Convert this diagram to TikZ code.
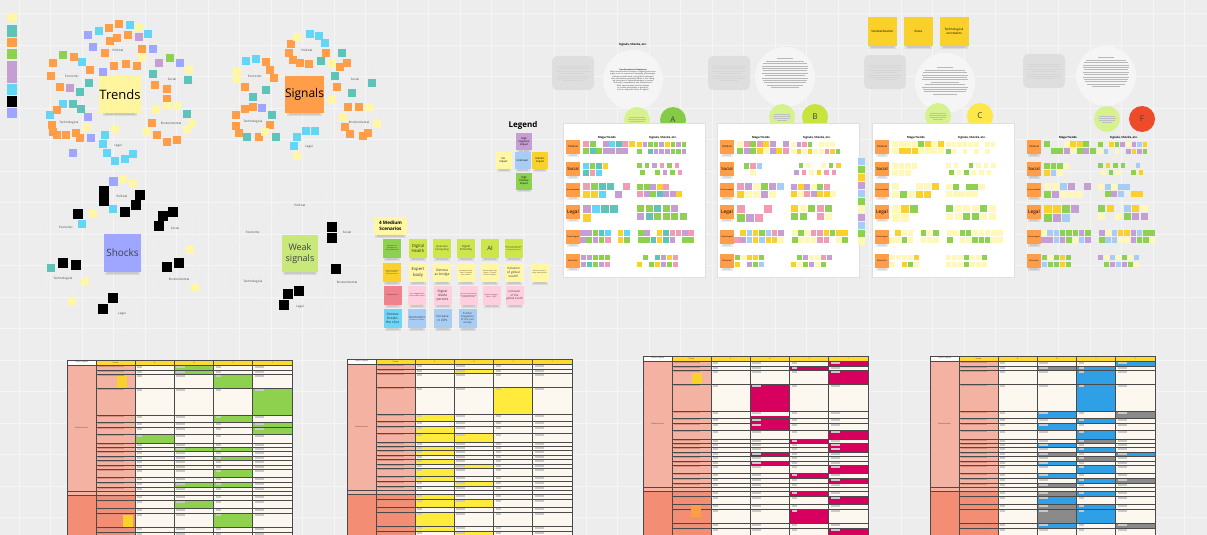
\documentclass[tikz,border=0pt]{standalone}
\usepackage{fontspec}
\setmainfont{Open Sans}
\definecolor{cbg}{HTML}{EDEDED}
\definecolor{cgrid}{HTML}{F5F5F5}
\definecolor{ctrend}{HTML}{FFF59E}
\definecolor{cor}{HTML}{FF9D48}
\definecolor{cteal}{HTML}{5EC4BA}
\definecolor{ccyan}{HTML}{63D6F7}
\definecolor{cperi}{HTML}{9EA6FF}
\definecolor{cpur}{HTML}{C59ED3}
\definecolor{cgrn}{HTML}{8ED04F}
\definecolor{cweak}{HTML}{C9E87A}
\definecolor{cyel}{HTML}{FFF6A6}
\definecolor{cpyel}{HTML}{FFF8B8}
\definecolor{cgold}{HTML}{FAD12A}
\definecolor{cyg}{HTML}{CDE64A}
\definecolor{cpink}{HTML}{F29BB5}
\definecolor{cpinkl}{HTML}{FFCEDF}
\definecolor{cred}{HTML}{F0828F}
\definecolor{cblue}{HTML}{A7CDF4}
\definecolor{cblueb}{HTML}{6DD5F7}
\definecolor{clime}{HTML}{D6F28E}
\definecolor{cA}{HTML}{86CB48}
\definecolor{cB}{HTML}{C6E33E}
\definecolor{cC}{HTML}{FCE84A}
\definecolor{cF}{HTML}{EE4B2B}
\definecolor{cgreybox}{HTML}{DEDEDE}
\definecolor{ccircle}{HTML}{F5F5F6}
\definecolor{csal}{HTML}{F4B2A3}
\definecolor{csal2}{HTML}{F38E74}
\definecolor{csalt}{HTML}{D98F80}
\definecolor{ccream}{HTML}{FCF8F0}
\definecolor{chead}{HTML}{FFDA2E}
\definecolor{cbar}{HTML}{C9C9C9}
\definecolor{ctline}{HTML}{4A4A4A}
\definecolor{cmag}{HTML}{D8005F}
\definecolor{ctgrn}{HTML}{8DD14E}
\definecolor{ctyel}{HTML}{FFEB3B}
\definecolor{ctblue}{HTML}{2F9FE6}
\definecolor{ctgrey}{HTML}{8A8A8A}

% squares of one colour, given by their centres
\newcommand\sqs[3]{\foreach \p in {#3}{\fill[#1] \p ++(-#2/2,-#2/2) rectangle ++(#2,#2);}}
% soft shadow under a note: left x, right x, bottom y
\newcommand\nshadow[3]{\fill[black,opacity=0.08] (#1+1,#3-1) rectangle (#2-1,#3+2.6);
  \fill[black,opacity=0.08] (#1+3,#3) rectangle (#2-3,#3+1.6);}
% a line of small squares with random colours
\newcommand\prow[6]{\foreach \k in {1,...,#3}{%
  \pgfmathtruncatemacro\keep{rnd>0.12}%
  \ifnum\keep=1 \pgfmathrandomitem{\cc}{#6}%
  \fill[\cc] ({#1+(\k-1)*#5},#2) rectangle ++(#4,#4);\fi}}
% the six rows of squares of one scenario board
\newcommand\boardsq[3]{%
  \prow{#1+20}{141}{8}{6}{6.5}{#2}\prow{#1+20}{148}{8}{6}{6.5}{#2}
  \prow{#1+74}{142}{9}{4.5}{5.6}{#3}\prow{#1+74}{149}{9}{4.5}{5.6}{#3}
  \prow{#1+20}{163}{4}{5.5}{6.5}{#2}\prow{#1+20}{170}{3}{5.5}{6.5}{#2}
  \prow{#1+74}{163}{7}{4.5}{7.5}{#3}\prow{#1+77}{170}{6}{4.5}{7.5}{#3}
  \prow{#1+20}{183}{6}{7}{8}{#2}\prow{#1+20}{191}{5}{7}{8}{#2}
  \prow{#1+74}{184}{6}{6}{6.5}{#3}\prow{#1+74}{191}{7}{6}{6.5}{#3}
  \prow{#1+20}{205}{4}{8}{9}{#2}\prow{#1+20}{214}{3}{8}{9}{#2}
  \prow{#1+74}{205}{6}{7}{8.5}{#3}\prow{#1+74}{213}{6}{7}{8.5}{#3}
  \prow{#1+17}{230}{8}{5.5}{6.3}{#2}\prow{#1+17}{237}{8}{5.5}{6.3}{#2}
  \prow{#1+75}{230}{9}{5.5}{6.3}{#3}\prow{#1+75}{237}{9}{5.5}{6.3}{#3}
  \prow{#1+18}{255}{5}{5}{6}{#2}\prow{#1+18}{262}{5}{5}{6}{#2}
  \prow{#1+74}{255}{7}{4.5}{6}{#3}\prow{#1+74}{262}{7}{4.5}{6}{#3}}
% orange row labels and column heads of one scenario board
\newcommand\boardlabels[2]{%
  \node[hdr] (#2mt) at (#1+44,138) {Mega Trends};
  \node[hdr] (#2ss) at (#1+100,138) {Signals, Shocks, etc.};
  \foreach \yy/\lab/\fs [count=\i] in {140/Political/2.6, 162/Social/4.2, 183/Environmental/1.9, 205/Legal/4.8, 230/Technological/1.9, 254/Economic/2.1}{%
    \nshadow{#1+3}{#1+17}{\yy+14}
    \node[fill=cor, minimum width=14pt, minimum height=14pt, inner sep=0pt,
      font=\fontsize{\fs}{\fs}\selectfont] (#2r\i) at (#1+10,\yy+7) {\lab};}}
% faint lines of very small print, centred at x, from y, with given half widths
\newcommand\printlines[3]{\foreach \hw [count=\j] in {#3}{\fill[black!28] (#1-\hw,#2+\j*2.4) rectangle (#1+\hw,#2+\j*2.4+0.55);}}

\def\rowsA{5/10,10/14,14/28,28/55,55/62,62/67,67/74,74/83,83/87,87/91,91/96,96/100,100/105,105/109,109/117,117/122,122/127,127/131}
\def\rowsB{135/140,140/148,148/153,153/167,167/172,172/180}
% one data table: x0, y0, name, fill colour, cells top/bottom/column, second colour, its cells
\newcommand\datatable[7]{%
\begin{scope}[shift={(#1,#2)}]
  \fill[white] (0,0) rectangle (29,5);
  \fill[chead] (29,0) rectangle (225,5);
  \fill[csal] (0,5) rectangle (68,135);
  \fill[csal2] (0,135) rectangle (68,180);
  \fill[ccream] (68,5) rectangle (225,180);
  \foreach \t/\b/\c in {#5}{\fill[#4] ({68+(\c-3)*39.25},\t) rectangle ({68+(\c-2)*39.25},\b);}
  \foreach \t/\b/\c in {#7}{\fill[#6] ({68+(\c-3)*39.25},\t) rectangle ({68+(\c-2)*39.25},\b);}
  \node[tt] (#3h) at (14.5,2.5) {Trends / Signals};
  \node[tt] (#3t) at (48.5,2.5) {Trends};
  \foreach \c/\hl in {0/A,1/B,2/C,3/F}{\node[tt] (#3c\c) at ({87.6+\c*39.25},2.5) {\hl};}
  \node[tt] (#3p) at (14.5,68) {Political trends};
  \foreach \t/\b in \rowsA {%
    \draw[tl] (29,\b) -- (225,\b);
    \fill[csalt] (31,\t+1) rectangle ++(26,1.3);
    \foreach \c in {0,...,3}{\fill[cbar] ({70+\c*39.25},\t+0.9) rectangle ++({5+mod(\c,2)*4},1.6);}}
  \foreach \t/\b in \rowsB {%
    \draw[tl] (29,\b) -- (225,\b);
    \fill[csalt] (31,\t+1) rectangle ++(30,1.3);
    \foreach \c in {0,...,3}{\fill[cbar] ({70+\c*39.25},\t+0.9) rectangle ++({5+mod(\c,2)*4},1.6);}}
  \draw[tl] (0,0) -- (225,0);
  \draw[tl] (0,5) -- (225,5);
  \draw[tl,line width=1pt] (0,131) -- (225,131);
  \draw[tl,line width=1pt] (0,135) -- (225,135);
  \foreach \x in {0,29,68,107.25,146.5,185.75,225}{\draw[tl] (\x,0) -- (\x,180);}
\end{scope}}

\pgfmathdeclarerandomlist{lA}{{cpur}{cpur}{cpur}{cpink}{cgrn}{cgrn}{cgold}{cteal}{ccyan}}
\pgfmathdeclarerandomlist{lAs}{{cpur}{cpur}{cpink}{cgrn}{cgrn}{cgrn}{cteal}{cgold}}
\pgfmathdeclarerandomlist{lB}{{cpur}{cpur}{cgrn}{cgrn}{cblue}{cgold}{cpyel}{cpink}}
\pgfmathdeclarerandomlist{lBs}{{cpur}{cgrn}{cgrn}{cgold}{cpyel}{cpyel}{cpink}}
\pgfmathdeclarerandomlist{lC}{{cpyel}{cpyel}{cpyel}{cpyel}{cgrn}{cgold}}
\pgfmathdeclarerandomlist{lCs}{{cpyel}{cpyel}{cpyel}{cpyel}{cpyel}{cgrn}}
\pgfmathdeclarerandomlist{lF}{{cgrn}{cgrn}{cblue}{cpur}{cpyel}{cgold}}

\begin{document}
\begin{tikzpicture}[x=1pt,y=-1pt,
  lbl/.style={font=\fontsize{3}{3.5}\selectfont, text=black!75, inner sep=0pt},
  tt/.style={font=\fontsize{1.8}{2}\selectfont, inner sep=0pt, text=black!80},
  hdr/.style={font=\bfseries\fontsize{2.8}{3}\selectfont, inner sep=0pt},
  note/.style={inner sep=0.3pt, align=center, text=black!80, minimum width=18pt, minimum height=19pt, text width=17pt},
  tl/.style={draw=ctline, line width=0.6pt},
  cring/.style={draw=black!9, dash pattern=on 0.5pt off 1.4pt, line width=0.35pt}]
\pgfmathsetseed{11}
\useasboundingbox (0,0) rectangle (1207,535);
\fill[cbg] (0,0) rectangle (1207,535);
\foreach \x in {19,50.5,...,1207}{\draw[cgrid,line width=0.7pt] (\x,0) -- (\x,535);}
\foreach \y in {13.5,45,...,535}{\draw[cgrid,line width=0.7pt] (0,\y) -- (1207,\y);}

% ---------- colour key strip ----------
\fill[cyel] (7,13) rectangle (17,21);
\fill[cteal] (7,25) rectangle (17,37);
\fill[cor] (7,38) rectangle (17,47);
\fill[cgrn] (7,49) rectangle (17,59);
\fill[cpur] (7,61) rectangle (17,83);
\fill[ccyan] (7,84) rectangle (17,95);
\fill[black] (7,96) rectangle (17,107);
\fill[cperi] (7,108) rectangle (17,118);

% ---------- Trends ----------
\foreach \p in {(118,50),(72,76),(172,79),(69,123),(171,123),(118,146)}{\draw[cring] \p circle (21);}
\sqs{cperi}{8}{(88,35),(93,47),(153,49),(103,72),(88,117),(91,138),(73,153)}
\sqs{ccyan}{8}{(99,31),(130,25),(148,34),(82,62),(63,104),(50,115),(105,135),(103,144),(107,153),(115,161),(125,159),(133,154)}
\sqs{cor}{7.5}{(109,28),(119,24),(110,41),(117,38),(128,35),(105,53),(114,66),(126,64),(137,66),(142,49),(74,57),(53,63),(90,70),(51,76),(60,87),(57,110),(52,125),(53,132),(57,135),(66,135),(76,133),(80,138),(155,85),(167,89),(167,99),(152,123),(157,135),(167,142),(177,140)}
\sqs{cyel}{8}{(139,27),(142,57),(189,70),(87,127),(156,110),(167,106),(177,106),(192,123),(187,130),(147,132),(115,130)}
\sqs{cpur}{8}{(139,37),(70,88),(159,63)}
\sqs{cgrn}{8}{(63,55),(170,58)}
\sqs{cteal}{8}{(80,92),(89,83),(73,104),(81,109),(153,74),(188,80),(187,114)}
\sqs{cperi}{8}{(180,63)}
\nshadow{102}{138}{113}
\node[fill=ctrend, minimum width=36pt, minimum height=37pt, inner sep=0pt, font=\fontsize{13}{15}\selectfont] (trends) at (120,94.5) {Trends};
\node[lbl] (tpol) at (118,50) {Political};
\node[lbl] (teco) at (72,76) {Economic};
\node[lbl] (tsoc) at (172,79) {Social};
\node[lbl] (ttec) at (69,123) {Technological};
\node[lbl] (tenv) at (171,123) {Environmental};
\node[lbl] (tleg) at (118,146) {Legal};

% ---------- Signals ----------
\foreach \p in {(307,50),(255,76),(355,79),(253,122),(359,122),(309,147)}{\draw[cring] \p circle (21);}
\sqs{ccyan}{8}{(310,34),(319,36),(325,43),(246,61),(256,59),(306,131),(315,131),(297,137),(294,146)}
\sqs{cor}{7.5}{(291,44),(289,53),(293,60),(300,63),(309,64),(326,53),(266,62),(270,70),(274,78),(245,87),(253,107),(245,109),(236,115),(236,126),(239,133),(270,125),(259,137),(347,63),(340,67),(337,87),(348,107),(359,107),(345,127),(350,134),(363,136),(368,133)}
\sqs{cteal}{8.5}{(321,61),(266,90),(253,97),(272,115),(247,137),(276,137),(342,53),(335,76),(372,83),(352,93)}
\sqs{cyel}{8}{(297,37),(237,72),(237,80),(265,132),(332,63),(332,100),(369,107),(343,117),(377,124),(297,155)}
\sqs{cperi}{8}{(262,108)}
\nshadow{286}{323}{113}
\node[fill=cor, minimum width=37pt, minimum height=37pt, inner sep=0pt, font=\fontsize{12}{14}\selectfont] (signals) at (304.5,94.5) {Signals};
\node[lbl] (spol) at (307,50) {Political};
\node[lbl] (seco) at (255,76) {Economic};
\node[lbl] (ssoc) at (355,79) {Social};
\node[lbl] (stec) at (253,122) {Technological};
\node[lbl] (senv) at (359,122) {Environmental};
\node[lbl] (sleg) at (309,147) {Legal};

% ---------- Shocks ----------
\foreach \p in {(122,196),(66,227),(175,228),(63,279),(179,279),(122,314)}{\draw[cring] \p circle (22);}
\sqs{black}{10}{(104,191),(104,201),(140,195),(136,205),(125,212),(78,214),(163,216),(173,212),(159,226),(167,267),(179,263),(63,263),(76,265),(113,298),(103,309)}
\sqs{cperi}{9}{(113,181)}
\sqs{cyel}{8.5}{(123,179),(133,184),(93,214),(190,250),(195,287),(85,281),(72,302)}
\sqs{ccyan}{8.5}{(113,209),(82,224)}
\sqs{cteal}{8.5}{(51,268)}
\nshadow{104}{141}{272}
\node[fill=cperi, minimum width=37pt, minimum height=38pt, inner sep=0pt, font=\fontsize{10}{12}\selectfont, text=black!75] (shocks) at (122.5,253) {Shocks};
\node[lbl] (hpol) at (122,196) {Political};
\node[lbl] (heco) at (66,227) {Economic};
\node[lbl] (hsoc) at (175,228) {Social};
\node[lbl] (htec) at (63,279) {Technological};
\node[lbl] (henv) at (179,279) {Environmental};
\node[lbl] (hleg) at (122,314) {Legal};

% ---------- Weak signals ----------
\foreach \p in {(300,205),(253,232),(347,232),(253,282),(347,282),(300,307)}{\draw[cring] \p circle (22);}
\sqs{black}{10}{(332,227),(332,238),(336,269),(299,291),(288,294),(284,305)}
\nshadow{282}{318}{272}
\node[fill=cweak, minimum width=36pt, minimum height=37pt, inner sep=0pt, align=center, font=\fontsize{9}{11}\selectfont, text=black!75] (weak) at (300,253.5) {Weak\\signals};
\node[lbl] (wpol) at (300,205) {Political};
\node[lbl] (weco) at (253,232) {Economic};
\node[lbl] (wsoc) at (347,232) {Social};
\node[lbl] (wtec) at (253,282) {Technological};
\node[lbl] (wenv) at (347,282) {Environmental};
\node[lbl] (wleg) at (300,307) {Legal};

% ---------- Legend ----------
\node[font=\bfseries\fontsize{8}{9}\selectfont] (legend) at (523,125) {Legend};
\foreach \nm/\cx/\cy/\col/\txt in {lg1/524/141.5/cpur/{High\\Negative\\Impact}, lg2/503.5/160.5/cyel/{No\\impact}, lg3/522.5/160.5/cblue/{Unknown}, lg4/540/160.5/cgold/{Indirect\\impact}, lg5/524/181/cgrn/{High\\Positive\\Impact}}{%
  \nshadow{\cx-8}{\cx+8}{\cy+8.5}
  \node[fill=\col, minimum width=16pt, minimum height=17pt, inner sep=0pt, align=center, font=\fontsize{2.6}{3.1}\selectfont] (\nm) at (\cx,\cy) {\txt};}

% ---------- 4 Medium Scenarios ----------
\nshadow{374}{407}{235}
\node[fill=cyel, minimum width=33pt, minimum height=18pt, inner sep=0pt, align=center, font=\bfseries\fontsize{4.6}{5.6}\selectfont] (ms) at (390.5,226) {4 Medium\\Scenarios};
\foreach \nm/\cx/\cy/\col/\fs/\txt in {
  m11/392/248.5/cgrn/1.7/{Geneva as a champion of new governance},
  m12/418/248.5/cyg/4.2/{Digital Health},
  m13/442/248.5/cyg/2.6/{Quantum Computing},
  m14/466/248.5/cyg/2.8/{Digital Economy},
  m15/490/248.5/cyg/6/{AI},
  m16/513.5/248.5/cyg/1.4/{Geneva to become a hub for science diplomacy and digital governance},
  m21/392/272.5/cgold/1.5/{Geneva ecosystem stays a leader in data governance},
  m22/418/272.5/cyel/4.2/{Expert body},
  m23/442/272.5/cyel/3.4/{Geneva as bridge},
  m24/466/272.5/cyel/1.6/{Increased Competition in Geneva less relevant},
  m25/490/272.5/cyel/1.6/{Geneva about regulation + international innovation},
  m26/513.5/272.5/cyel/3.1/{Inclusion of global south?},
  m27/539.5/272.5/cyel/1.6/{Geneva as one of many neutral hubs},
  m31/392.5/295.5/cred/1.7/{Fragmentation},
  m32/417/295.5/cpinkl/1.7/{Less engagement from private actors},
  m33/442.5/295.5/cpinkl/3.3/{Digital divide persists},
  m34/468.5/295.5/cpinkl/1.5/{Little use and adoption of data standards and international rules},
  m35/491.5/295.5/cpinkl/1.6/{Regional fragmentation + WSIS},
  m36/514.5/295.5/cpinkl/2.8/{Inclusion of the global south},
  m41/392.5/318.5/cblueb/3.4/{Geneva breaks the silos},
  m42/417/318.5/cblue/1.5/{More hubs engaged in appeared and physical presence in Geneva},
  m43/442.5/318.5/cblue/3.1/{Increase in IXPs},
  m44/467.5/318.5/cblue/2.6/{Further integration of the civil society}}{%
  \nshadow{\cx-9}{\cx+9}{\cy+9.5}
  \pgfmathsetmacro\bs{\fs*1.2}
  \node[note, fill=\col, font=\fontsize{\fs}{\bs}\selectfont] (\nm) at (\cx,\cy) {\txt};}

% ---------- scenario boards ----------
% top notes
\foreach \nm/\cx/\txt in {tn1/882.5/Standardization, tn2/918.5/Rules/policies, tn3/954/{Technological\\constraints}}{%
  \nshadow{\cx-14.5}{\cx+14.5}{46}
  \node[fill=cgold, minimum width=29pt, minimum height=29pt, inner sep=0pt, align=center, font=\fontsize{3}{3.6}\selectfont] (\nm) at (\cx,31.5) {\txt};}

% grey cards and question circles
\foreach \gx/\gy in {552/56,708/56,864/55,1023/54}{%
  \fill[cgreybox, rounded corners=5pt] (\gx,\gy) rectangle (\gx+42,\gy+34);
  \foreach \ly/\hw in {10/17,12.4/16,14.8/17,17.2/12,19.6/17,22/16,24.4/10}{\fill[black!16] (\gx+21-\hw,\gy+\ly) rectangle (\gx+21+\hw,\gy+\ly+0.55);}}
\node[hdr] (ttlA) at (633,45) {Signals, Shocks, etc.};
\foreach \nm/\cx/\cy in {qa/633/80, qb/785/77, qc/945/83, qf/1106/76}{%
  \fill[ccircle] (\cx,\cy) circle (30);}
\node[font=\fontsize{1.9}{2.3}\selectfont, text width=46pt, align=center, inner sep=0pt, text=black!80] (qtA) at (633,80) {\textbf{Transformation (Adaptation)}\\What transformative changes in digital governance might occur in response to emerging technologies, shifting societal needs, and global challenges?\\How can Geneva proactively adapt to the changing landscape of digital governance to ensure inclusivity, transparency, and effectiveness?\\What opportunities exist for Geneva to involve participants in global efforts to shape the future of digital?};
\printlines{785}{56}{8,19,22,23,23,22,23,20,23,22,21,18,14}
\printlines{945}{65}{8,20,22,23,22,23,14,20,23,22,21,12}
\printlines{1106}{55}{8,20,22,23,23,22,23,22,23,22,21,19,14}

\foreach \nm/\lx/\ly/\kx/\kcol/\kl in {A/637/120/673/cA/A, B/782/117/815/cB/B, C/938/116/980/cC/C, F/1107/119/1142/cF/F}{%
  \fill[clime] (\lx,\ly) circle (13);
  \foreach \dd/\hw in {-3/8,-1/9,1/8,3/5}{\fill[black!25] (\lx-\hw,\ly+\dd) rectangle (\lx+\hw,\ly+\dd+0.5);}
  \node[circle, fill=\kcol, minimum size=26pt, inner sep=0pt, font=\fontsize{8}{9}\selectfont, text=black!75] (k\nm) at (\kx,\ly) {\kl};}

% boards
\foreach \bx in {563,717,872}{\fill[white, draw=black!12, line width=0.4pt] (\bx,123) rectangle (\bx+142,277);}
\boardlabels{563}{ba}
\boardlabels{717}{bb}
\boardlabels{872}{bc}
\boardlabels{1024}{bf}
\boardsq{563}{lA}{lAs}
\boardsq{717}{lB}{lBs}
\boardsq{872}{lC}{lCs}
\boardsq{1024}{lF}{lF}
\foreach \yy/\col in {158/cblue,166/cgrn,174/cgold,182/cpur,190/cblue,198/cgrn,206/cpyel,214/cpur,222/cblue,230/cgrn,238/cpyel}{\fill[\col] (858,\yy) rectangle ++(7,6.5);}

% ---------- data tables ----------
\datatable{67}{360}{ta}{ctgrn}{5/10/4,10/14/4,14/28/5,28/55/6,55/62/5,62/67/6,67/74/6,74/83/3,87/91/4,87/91/5,96/100/5,109/117/5,122/127/4,122/127/5,140/148/4,153/167/5}{ctgrn}{74/83/3}
\fill[cgold] (117,376) rectangle (127,388);
\fill[cgold] (123,515) rectangle (133,527);
\datatable{347}{359}{tb}{ctyel}{10/14/4,28/55/5,55/62/3,67/74/3,74/83/3,74/83/4,87/91/3,91/96/3,100/105/3,105/109/4,109/117/3,117/122/3,122/127/4,135/140/3,140/148/3,140/148/4,153/167/3,167/172/3,172/180/4}{ctyel}{10/14/4}
\datatable{643}{356}{tc}{cmag}{5/10/6,10/15/5,14/28/6,28/55/4,60/67/4,67/74/4,74/83/6,83/87/5,87/91/6,91/96/6,96/100/4,105/109/4,109/117/6,117/122/5,122/127/6,135/140/5,140/148/6,153/167/5,172/180/6}{cmag}{5/10/6}
\fill[cgold] (692,373) rectangle (702,384);
\fill[cor] (691,505) rectangle (701,517);
\datatable{930}{356}{td}{ctblue}{5/10/6,10/14/5,14/28/5,28/55/5,55/62/4,62/67/5,67/74/4,74/83/5,87/91/4,91/96/5,96/100/6,105/109/4,109/117/5,117/122/4,122/127/5,135/140/5,140/148/4,148/153/5,153/167/5,167/172/4}{ctgrey}{10/14/4,55/62/6,83/87/5,96/100/4,100/105/5,122/127/6,127/131/4,135/140/4,148/153/4,153/167/4,167/172/6}
\end{tikzpicture}
\end{document}
